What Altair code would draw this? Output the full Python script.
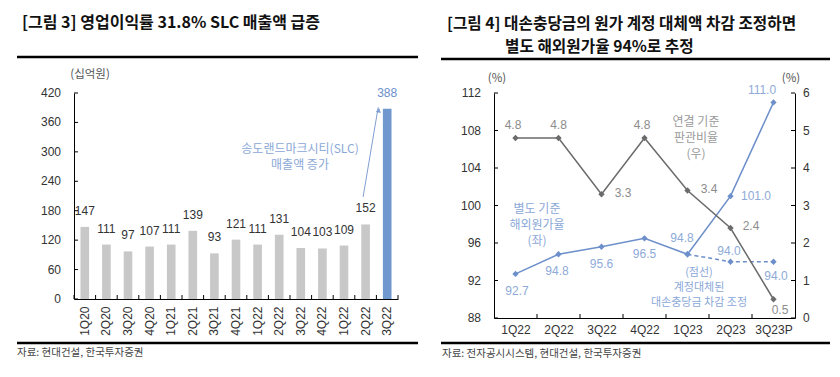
import altair as alt
import pandas as pd

# ---------------- data ----------------
# left panel
q1 = ["1Q20", "2Q20", "3Q20", "4Q20", "1Q21", "2Q21", "3Q21", "4Q21",
      "1Q22", "2Q22", "3Q22", "4Q22", "1Q22", "2Q22", "3Q22"]
sales = [147, 111, 97, 107, 111, 139, 93, 121, 111, 131, 104, 103, 109, 152, 388]
highlight = [0] * 14 + [1]
y1_ticks = [0, 60, 120, 180, 240, 300, 360, 420]
arrow_from = [13, 208]   # (bar index, value)
arrow_to = [14, 391]

# right panel
q2 = ["1Q22", "2Q22", "3Q22", "4Q22", "1Q23", "2Q23", "3Q23P"]
cost_ratio = [92.7, 94.8, 95.6, 96.5, 94.8, 101.0, 111.0]
adj_q = ["1Q23", "2Q23", "3Q23P"]
adj_ratio = [94.8, 94.0, 94.0]
sga_ratio = [4.8, 4.8, 3.3, 4.8, 3.4, 2.4, 0.5]
yl_ticks = [88, 92, 96, 100, 104, 108, 112]
yr_ticks = [0, 1, 2, 3, 4, 5, 6]

title1 = "[그림 3] 영업이익률 31.8% SLC 매출액 급증"
title2a = "[그림 4] 대손충당금의 원가 계정 대체액 차감 조정하면"
title2b = "별도 해외원가율 94%로 추정"
unit1 = "(십억원)"
unit2 = "(%)"
src1 = "자료: 현대건설, 한국투자증권"
src2 = "자료: 전자공시시스템, 현대건설, 한국투자증권"
ann1 = ["송도랜드마크시티(SLC)", "매출액 증가"]
ann_sga = ["연결 기준", "판관비율", "(우)"]
ann_cost = ["별도 기준", "해외원가율", "(좌)"]
ann_adj = ["(점선)", "계정대체된", "대손충당금  차감  조정"]

# ---------------- style ----------------
KF = "Noto Sans CJK KR"
NF = "Liberation Sans, Noto Sans CJK KR"
W1, H1 = 324, 206
W2, H2 = 301, 225
BLUE = "#6D8FCA"
BLUE_T = "#8EAAD8"
GRAY_L = "#6B6B6B"
GRAY_T = "#8C8C8C"
BAR_G = "#C8C8C8"
BAR_B = "#7097CE"
AX_T = "#333333"

one = pd.DataFrame({"a": [0]})


def txt(s, x, y, size, color, align="center", weight="normal", font=KF):
    return alt.Chart(pd.DataFrame({"t": [s]})).mark_text(
        align=align, baseline="middle", fontSize=size, color=color,
        fontWeight=weight, font=font
    ).encode(x=alt.value(x), y=alt.value(y), text="t:N")


def hline(xa, xb, y, w):
    return alt.Chart(one).mark_rule(color="black", strokeWidth=w).encode(
        x=alt.value(xa), x2=alt.value(xb), y=alt.value(y))


def box(xa, xb, ya, yb):
    return alt.Chart(one).mark_rect(opacity=0).encode(
        x=alt.value(xa), x2=alt.value(xb), y=alt.value(ya), y2=alt.value(yb))


def ylabels(vals, field, x, align):
    return alt.Chart(pd.DataFrame({field: vals})).mark_text(
        align=align, baseline="middle", fontSize=12, font=NF, color=AX_T).encode(
        y=alt.Y(field + ":Q"), x=alt.value(x), text=alt.Text(field + ":Q", format="d"))


# ---------------- left panel ----------------
df1 = pd.DataFrame({"i": list(range(len(q1))), "v": sales, "hl": highlight})
lbl_expr = "[" + ",".join("'%s'" % q for q in q1) + "][datum.value]"
sx1 = alt.Scale(paddingInner=0.6, paddingOuter=0.3)
sy1 = alt.Scale(domain=[0, 420], nice=False)
x1 = alt.X("i:O", scale=sx1, axis=alt.Axis(
    labelExpr=lbl_expr, labelAngle=270, ticks=False, domainColor="black",
    labelFont=NF, labelFontSize=12, labelColor=AX_T, labelPadding=7,
    title=None, labelAlign="right", labelBaseline="middle", labelOverlap=False))
y1 = alt.Y("v:Q", scale=sy1, axis=alt.Axis(
    values=y1_ticks, ticks=False, labels=False, domainColor="black", grid=False,
    title=None))

bars = alt.Chart(df1).mark_bar().encode(
    x=x1, y=y1,
    color=alt.Color("hl:N", scale=alt.Scale(domain=[0, 1], range=[BAR_G, BAR_B]), legend=None))
bar_lbl_g = alt.Chart(df1).transform_filter(alt.datum.hl == 0).mark_text(
    dy=-16, fontSize=12, font=NF, baseline="middle", color="#333333").encode(
    x="i:O", y="v:Q", text="v:Q")
bar_lbl_b = alt.Chart(df1).transform_filter(alt.datum.hl == 1).mark_text(
    dy=-16, fontSize=12, font=NF, baseline="middle", color="#6A8FCB").encode(
    x="i:O", y="v:Q", text="v:Q")
yt1 = alt.Chart(pd.DataFrame({"v": y1_ticks})).mark_rule(color="black").encode(
    y="v:Q", x=alt.value(0), x2=alt.value(4))
yl1 = ylabels(y1_ticks, "v", -13, "right")
step1 = W1 / len(q1)
xt1 = alt.Chart(df1).mark_rule(color="black", xOffset=-step1 / 2).encode(
    x="i:O", y=alt.value(H1), y2=alt.value(H1 - 4))
xt1e = alt.Chart(df1.tail(1)).mark_rule(color="black", xOffset=step1 / 2).encode(
    x="i:O", y=alt.value(H1), y2=alt.value(H1 - 4))
arr_df = pd.DataFrame({"i": [arrow_from[0]], "i2": [arrow_to[0]],
                       "v": [arrow_from[1]], "v2": [arrow_to[1]]})
arrow = alt.Chart(arr_df).mark_rule(color="#7F9FD2", strokeWidth=1, xOffset=-2.5, x2Offset=-9).encode(
    x="i:O", x2="i2", y="v:Q", y2="v2")
head = alt.Chart(arr_df).mark_point(shape="triangle-up", filled=True, size=28, angle=9.5,
                                    color="#7F9FD2", opacity=1, xOffset=-8.5, yOffset=3).encode(
    x=alt.X("i2:O"), y=alt.Y("v2:Q"))

p1 = alt.layer(
    box(-74, 346, -93, 284),
    bars, bar_lbl_g, bar_lbl_b, yt1, yl1, xt1, xt1e, arrow, head,
    txt(title1, -52, -70, 16, "#111", align="left", weight="bold"),
    hline(-57, 344, -36, 2.5),
    txt(unit1, 16, -18, 11.5, "#555"),
    hline(-57, 344, 250, 2.5),
    txt(src1, -57, 260, 10.5, "#444", align="left"),
    txt(ann1[0], 226, 56, 12, "#8BA8D8"),
    txt(ann1[1], 226, 72, 12, "#8BA8D8"),
).properties(width=W1, height=H1)

# ---------------- right panel ----------------
sx2 = alt.Scale(type="point", domain=q2, padding=0.5)
syl = alt.Scale(domain=[88, 112], nice=False, zero=False)
syr = alt.Scale(domain=[0, 6], nice=False, zero=False)
x2 = alt.X("q:N", scale=sx2, sort=q2, axis=alt.Axis(
    ticks=False, domainColor="black", labelAngle=0, labelFont=NF, labelFontSize=12,
    labelColor=AX_T, labelPadding=6, title=None, labelOverlap=False))
df_cost = pd.DataFrame({"q": q2, "v": cost_ratio})
df_adj = pd.DataFrame({"q": adj_q, "v": adj_ratio})
df_sga = pd.DataFrame({"q": q2, "s": sga_ratio})

yl = alt.Y("v:Q", scale=syl, axis=alt.Axis(
    orient="left", values=yl_ticks, ticks=False, labels=False, domainColor="black",
    grid=False, title=None))
yr = alt.Y("s:Q", scale=syr, axis=alt.Axis(
    orient="right", values=yr_ticks, ticks=False, labels=False, domainColor="black",
    grid=False, title=None))

cost_line = alt.Chart(df_cost).mark_line(color=BLUE, strokeWidth=1.5).encode(x=x2, y=yl)
cost_pts = alt.Chart(df_cost).mark_point(shape="diamond", filled=True, size=40, color=BLUE, opacity=1).encode(
    x=alt.X("q:N", scale=sx2), y="v:Q")
adj_line = alt.Chart(df_adj).mark_line(color=BLUE, strokeWidth=1.5, strokeDash=[4, 3]).encode(
    x=alt.X("q:N", scale=sx2, sort=q2), y="v:Q")
adj_pts = alt.Chart(df_adj).mark_point(shape="diamond", filled=True, size=40, color=BLUE, opacity=1).encode(
    x=alt.X("q:N", scale=sx2), y="v:Q")
ytl = alt.Chart(pd.DataFrame({"v": yl_ticks})).mark_rule(color="black").encode(
    y="v:Q", x=alt.value(0), x2=alt.value(4))
yll = ylabels(yl_ticks, "v", -13, "right")

cost_off = {"1Q22": (1.5, 17), "2Q22": (-1.5, 17), "3Q22": (0, 17.5), "4Q22": (0, 16),
            "1Q23": (-5.5, -16.5), "2Q23": (25.5, 0), "3Q23P": (-11.5, -12)}
adj_off = {"2Q23": (-1.5, -11), "3Q23P": (2.5, 14)}
sga_off = {"1Q22": (-2.5, -13), "2Q22": (0, -13), "3Q22": (21.5, -1.5), "4Q22": (-2.5, -13),
           "1Q23": (21.5, -1.5), "2Q23": (20.5, -2), "3Q23P": (6.5, 11)}

blue_layers = [cost_line, adj_line, cost_pts, adj_pts, ytl, yll]
for q, (dx, dy) in cost_off.items():
    blue_layers.append(alt.Chart(df_cost).transform_filter(alt.datum.q == q).mark_text(
        dx=dx, dy=dy, fontSize=12, font=NF, color=BLUE_T, baseline="middle").encode(
        x=alt.X("q:N", scale=sx2), y="v:Q", text=alt.Text("v:Q", format=".1f")))
for q, (dx, dy) in adj_off.items():
    blue_layers.append(alt.Chart(df_adj).transform_filter(alt.datum.q == q).mark_text(
        dx=dx, dy=dy, fontSize=12, font=NF, color=BLUE_T, baseline="middle").encode(
        x=alt.X("q:N", scale=sx2), y="v:Q", text=alt.Text("v:Q", format=".1f")))
blue_grp = alt.layer(*blue_layers)

sga_line = alt.Chart(df_sga).mark_line(color=GRAY_L, strokeWidth=1.5).encode(
    x=alt.X("q:N", scale=sx2, sort=q2), y=yr)
sga_pts = alt.Chart(df_sga).mark_point(shape="diamond", filled=True, size=40, color=GRAY_L, opacity=1).encode(
    x=alt.X("q:N", scale=sx2), y="s:Q")
ytr = alt.Chart(pd.DataFrame({"s": yr_ticks})).mark_rule(color="black").encode(
    y="s:Q", x=alt.value(W2 - 4), x2=alt.value(W2))
ylr = ylabels(yr_ticks, "s", W2 + 8, "left")
gray_layers = [sga_line, sga_pts, ytr, ylr]
for q, (dx, dy) in sga_off.items():
    gray_layers.append(alt.Chart(df_sga).transform_filter(alt.datum.q == q).mark_text(
        dx=dx, dy=dy, fontSize=12, font=NF, color=GRAY_T, baseline="middle").encode(
        x=alt.X("q:N", scale=sx2), y="s:Q", text=alt.Text("s:Q", format=".1f")))
gray_grp = alt.layer(*gray_layers)

step2 = W2 / len(q2)
xt2 = alt.Chart(pd.DataFrame({"q": q2[1:]})).mark_rule(color="black", xOffset=-step2 / 2).encode(
    x=alt.X("q:N", scale=sx2), y=alt.value(H2), y2=alt.value(H2 - 4))

ann_layers = []
for k, s in enumerate(ann_sga):
    ann_layers.append(txt(s, 202, 29 + 16 * k, 12, "#9A9A9A"))
for k, s in enumerate(ann_cost):
    ann_layers.append(txt(s, 43, 116 + 16 * k, 12, "#8BA8D8"))
for k, s in enumerate(ann_adj):
    ann_layers.append(txt(s, 205, 180 + 15 * k, 11, "#8BA8D8"))

p2 = alt.layer(
    box(-74, 346, -92, 285),
    blue_grp, gray_grp, xt2,
    txt(title2a, -47, -69, 15.7, "#111", align="left", weight="bold"),
    txt(title2b, 11, -46, 15.7, "#111", align="left", weight="bold"),
    hline(-53, 336, -34, 2.5),
    txt(unit2, 3, -14, 11.5, "#555"),
    txt(unit2, 297, -14, 11.5, "#555"),
    hline(-53, 336, 250, 2.5),
    txt(src2, -52, 261, 10.5, "#444", align="left"),
    *ann_layers,
).resolve_scale(y="independent").properties(width=W2, height=H2)

chart = alt.hconcat(p1, p2, spacing=0).properties(
    padding=0, background="white"
).configure_view(stroke=None)

chart.save("out.html", embed_options={"renderer": "svg", "actions": False})
